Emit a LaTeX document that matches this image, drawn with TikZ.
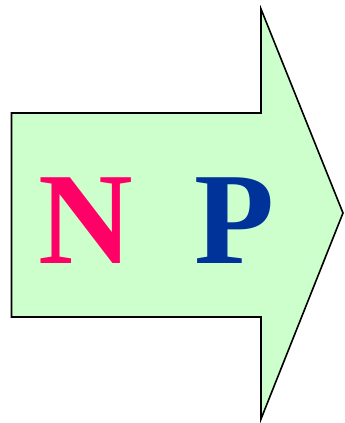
\documentclass[tikz,border=0pt]{standalone}
\usepackage{fontspec}
\setmainfont{Liberation Serif}
\definecolor{arrowfill}{HTML}{CCFFCC}
\definecolor{nred}{HTML}{FF0066}
\definecolor{pblue}{HTML}{003399}
\begin{document}
\begin{tikzpicture}[x=1pt,y=-1pt,
  letter/.style={inner sep=0pt,anchor=base,font=\fontsize{131}{131}\selectfont\bfseries}]
\useasboundingbox (0,0) rectangle (345,423);
\draw[line width=1.6pt,fill=arrowfill,line join=miter]
  (11.5,113) -- (261,113) -- (261,9) -- (343,213) -- (261,419) -- (261,317) -- (11.5,317) -- cycle;
\node[letter,text=nred] (n) at (86,263) {N};
\node[letter,text=pblue] (p) at (235,263) {P};
\end{tikzpicture}
\end{document}
